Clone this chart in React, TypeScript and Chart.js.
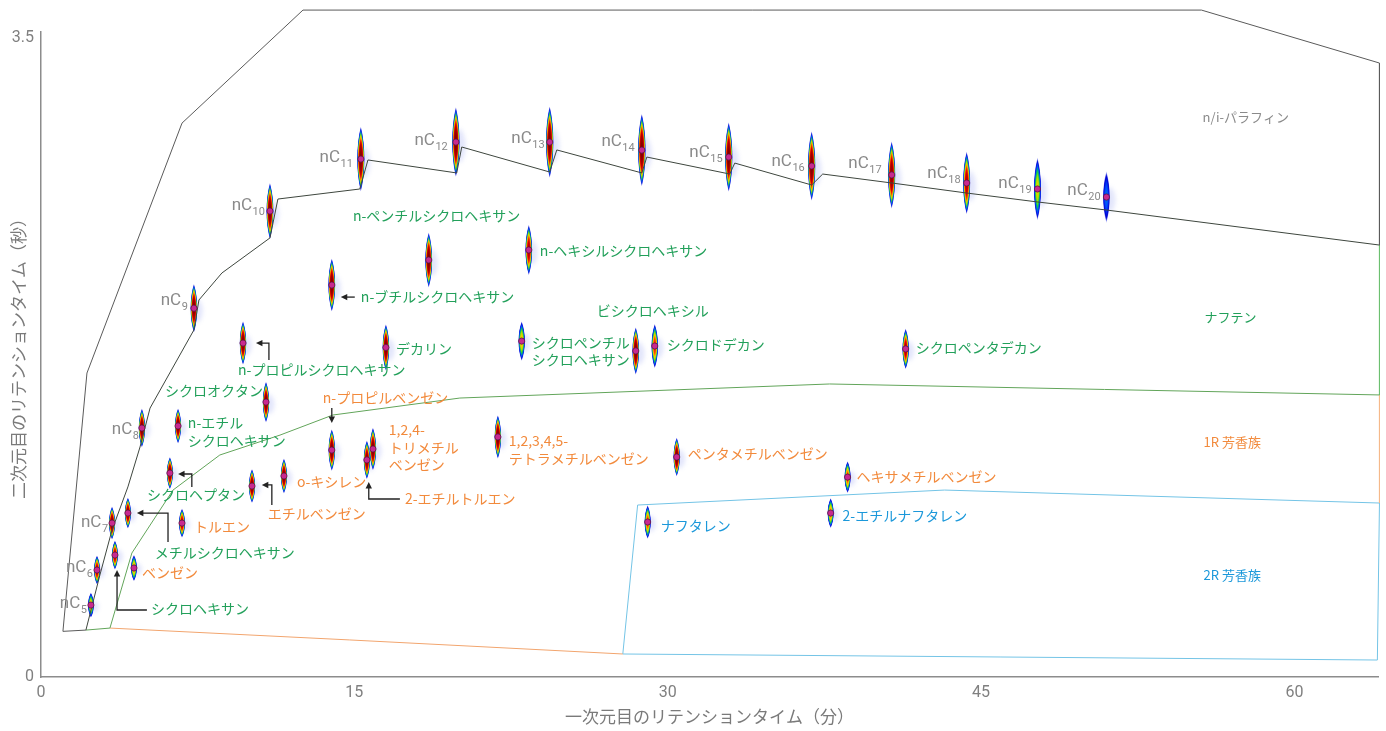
import React, { useEffect, useRef } from 'react';
import Chart from 'chart.js/auto';

// ---------- axes ----------
const xTicks = [0, 15, 30, 45, 60];
const yTicks = [0, 3.5];

// ---------- peaks (x: 1st dim min, y: 2nd dim s, spread: peak width in 2nd dim s, intensity: relative) ----------
const paraffinCarbons = ['5', '6', '7', '8', '9', '10', '11', '12', '13', '14', '15', '16', '17', '18', '19', '20'];
const paraffinX = [2.39, 2.68, 3.40, 4.83, 7.32, 10.96, 15.31, 19.86, 24.35, 28.76, 32.92, 36.89, 40.72, 44.31, 47.70, 51.0];
const paraffinY = [0.394, 0.586, 0.843, 1.364, 2.02, 2.552, 2.837, 2.930, 2.930, 2.886, 2.848, 2.799, 2.750, 2.706, 2.673, 2.629];
const paraffinSpread = [0.142, 0.164, 0.186, 0.219, 0.274, 0.318, 0.367, 0.394, 0.405, 0.411, 0.394, 0.394, 0.383, 0.356, 0.356, 0.296];
const paraffinIntensity = [0.6, 0.85, 1, 1, 1, 1, 1, 1, 1, 1, 1, 1, 0.95, 0.85, 0.55, 0.3];
const paraffinLabelX = [2.20, 2.49, 3.21, 4.69, 7.03, 10.72, 14.93, 19.47, 24.11, 28.42, 32.63, 36.56, 40.24, 44.02, 47.42, 50.72];
const paraffinLabelY = [0.378, 0.575, 0.822, 1.331, 2.038, 2.558, 2.821, 2.914, 2.925, 2.908, 2.848, 2.799, 2.788, 2.733, 2.678, 2.640];

const naphtheneNames = ['シクロヘキサン', 'メチルシクロヘキサン', 'シクロヘプタン', 'n-エチルシクロヘキサン', 'シクロオクタン', 'n-プロピルシクロヘキサン', 'n-ブチルシクロヘキサン', 'n-ペンチルシクロヘキサン', 'n-ヘキシルシクロヘキサン', 'デカリン', 'シクロペンチルシクロヘキサン', 'ビシクロヘキシル', 'シクロドデカン', 'シクロペンタデカン'];
const naphtheneX = [3.54, 4.16, 6.17, 6.56, 10.77, 9.67, 13.92, 18.56, 23.35, 16.51, 23.01, 28.47, 29.38, 41.39];
const naphtheneY = [0.668, 0.898, 1.117, 1.375, 1.506, 1.829, 2.147, 2.284, 2.339, 1.805, 1.840, 1.786, 1.813, 1.797];
const naphtheneSpread = [0.164, 0.175, 0.181, 0.197, 0.230, 0.246, 0.301, 0.312, 0.285, 0.263, 0.225, 0.268, 0.252, 0.230];
const naphtheneIntensity = [0.85, 0.95, 1, 1, 1, 1, 1, 1, 0.85, 1, 0.6, 1, 0.72, 0.85];

const aromaticNames = ['ベンゼン', 'トルエン', 'エチルベンゼン', 'o-キシレン', 'n-プロピルベンゼン', '2-エチルトルエン', '1,2,4-トリメチルベンゼン', '1,2,3,4,5-テトラメチルベンゼン', 'ペンタメチルベンゼン', 'ヘキサメチルベンゼン'];
const aromaticX = [4.45, 6.75, 10.10, 11.63, 13.92, 15.60, 15.89, 21.87, 30.43, 38.61];
const aromaticY = [0.597, 0.843, 1.046, 1.101, 1.243, 1.189, 1.249, 1.315, 1.205, 1.095];
const aromaticSpread = [0.148, 0.164, 0.192, 0.197, 0.236, 0.219, 0.241, 0.246, 0.219, 0.181];
const aromaticIntensity = [0.65, 0.85, 1, 1, 1, 0.95, 1, 1, 1, 0.7];

const diaromaticNames = ['ナフタレン', '2-エチルナフタレン'];
const diaromaticX = [29.04, 37.80];
const diaromaticY = [0.849, 0.898];
const diaromaticSpread = [0.192, 0.170];
const diaromaticIntensity = [0.7, 0.65];

// ---------- group region boundaries ----------
const paraffinOuter = [[2.15, 0.257], [1.05, 0.25], [2.20, 1.665], [6.75, 3.034], [12.54, 3.653], [55.55, 3.653], [64.07, 3.363], [64.07, 2.366]];
const paraffinLower = [[64.07, 2.366], [51.0, 2.558], [47.7, 2.602], [44.31, 2.651], [40.72, 2.706], [37.42, 2.755], [36.89, 2.695], [33.21, 2.815], [32.97, 2.755], [29.0, 2.848], [28.76, 2.761], [24.69, 2.887], [24.35, 2.766], [20.14, 2.903], [19.9, 2.761], [15.65, 2.832], [15.26, 2.673], [11.34, 2.618], [10.96, 2.405], [8.66, 2.213], [7.56, 2.065], [7.32, 1.901], [5.22, 1.473], [4.74, 1.26], [4.16, 1.041], [3.40, 0.805], [2.82, 0.559], [2.15, 0.257]];
const naphtheneLower = [[2.15, 0.257], [3.30, 0.268], [4.35, 0.679], [6.32, 1.024], [8.56, 1.216], [11.44, 1.325], [13.97, 1.435], [20.05, 1.528], [37.75, 1.605], [64.07, 1.545]];
const naphtheneRight = [[64.07, 2.366], [64.07, 1.545]];
const aromaticLower = [[3.30, 0.268], [14.78, 0.203], [27.85, 0.126]];
const aromaticRight = [[64.07, 1.545], [64.07, 0.953]];
const diaromaticBox = [[27.85, 0.126], [28.56, 0.942], [43.25, 1.024], [64.07, 0.953], [63.97, 0.093], [27.85, 0.126]];

const GRAY = '#8a8a8a';
const GREEN = '#22a05a';
const ORANGE = '#f28a3c';
const BLUE = '#1b98da';

const compoundLabels = [
  { lines: ['n-ペンチルシクロヘキサン'], x: 14.93, y: 2.525, color: GREEN },
  { lines: ['n-ヘキシルシクロヘキサン'], x: 23.88, y: 2.333, color: GREEN },
  { lines: ['n-ブチルシクロヘキサン'], x: 15.31, y: 2.081, color: GREEN },
  { lines: ['n-プロピルシクロヘキサン'], x: 9.43, y: 1.682, color: GREEN },
  { lines: ['デカリン'], x: 16.99, y: 1.797, color: GREEN },
  { lines: ['シクロペンチル', 'シクロヘキサン'], x: 23.49, y: 1.832, color: GREEN },
  { lines: ['ビシクロヘキシル'], x: 26.60, y: 2.005, color: GREEN },
  { lines: ['シクロドデカン'], x: 29.95, y: 1.818, color: GREEN },
  { lines: ['シクロペンタデカン'], x: 41.87, y: 1.802, color: GREEN },
  { lines: ['シクロオクタン'], x: 5.93, y: 1.567, color: GREEN },
  { lines: ['n-エチル', 'シクロヘキサン'], x: 7.03, y: 1.391, color: GREEN },
  { lines: ['シクロヘプタン'], x: 5.07, y: 0.997, color: GREEN },
  { lines: ['メチルシクロヘキサン'], x: 5.45, y: 0.679, color: GREEN },
  { lines: ['シクロヘキサン'], x: 5.26, y: 0.372, color: GREEN },
  { lines: ['n-プロピルベンゼン'], x: 13.49, y: 1.528, color: ORANGE },
  { lines: ['1,2,4-', 'トリメチル', 'ベンゼン'], x: 16.65, y: 1.353, color: ORANGE },
  { lines: ['1,2,3,4,5-', 'テトラメチルベンゼン'], x: 22.39, y: 1.293, color: ORANGE },
  { lines: ['ペンタメチルベンゼン'], x: 30.96, y: 1.221, color: ORANGE },
  { lines: ['ヘキサメチルベンゼン'], x: 39.04, y: 1.095, color: ORANGE },
  { lines: ['o-キシレン'], x: 12.25, y: 1.068, color: ORANGE },
  { lines: ['エチルベンゼン'], x: 10.86, y: 0.893, color: ORANGE },
  { lines: ['2-エチルトルエン'], x: 17.42, y: 0.975, color: ORANGE },
  { lines: ['トルエン'], x: 7.32, y: 0.822, color: ORANGE },
  { lines: ['ベンゼン'], x: 4.83, y: 0.570, color: ORANGE },
  { lines: ['ナフタレン'], x: 29.67, y: 0.827, color: BLUE },
  { lines: ['2-エチルナフタレン'], x: 38.37, y: 0.882, color: BLUE },
];

const regionLabels = [
  { text: 'n/i-パラフィン', x: 55.60, y: 3.067, color: GRAY },
  { text: 'ナフテン', x: 55.69, y: 1.972, color: GREEN },
  { text: '1R 芳香族', x: 55.65, y: 1.287, color: ORANGE },
  { text: '2R 芳香族', x: 55.65, y: 0.559, color: BLUE },
];

const arrows = [
  [[15.02, 2.081], [14.35, 2.081]],
  [[10.91, 1.736], [10.91, 1.829], [10.29, 1.829]],
  [[7.22, 1.041], [7.22, 1.112], [6.56, 1.112]],
  [[6.08, 0.739], [6.08, 0.898], [4.59, 0.898]],
  [[5.07, 0.367], [3.64, 0.367], [3.64, 0.586]],
  [[13.92, 1.473], [13.92, 1.391]],
  [[11.05, 0.942], [11.05, 1.052], [10.57, 1.052]],
  [[17.18, 0.975], [15.69, 0.975], [15.69, 1.068]],
];

const peakGroups = [
  { x: paraffinX, y: paraffinY, spread: paraffinSpread, intensity: paraffinIntensity },
  { x: naphtheneX, y: naphtheneY, spread: naphtheneSpread, intensity: naphtheneIntensity },
  { x: aromaticX, y: aromaticY, spread: aromaticSpread, intensity: aromaticIntensity },
  { x: diaromaticX, y: diaromaticY, spread: diaromaticSpread, intensity: diaromaticIntensity },
];

const boundaries = [
  { pts: paraffinOuter, color: '#5a5a5a' },
  { pts: paraffinLower, color: '#3e463e' },
  { pts: naphtheneLower, color: '#62a55a' },
  { pts: naphtheneRight, color: '#6cc070' },
  { pts: aromaticLower, color: '#f2a56e' },
  { pts: aromaticRight, color: '#f5b98a' },
  { pts: diaromaticBox, color: '#74c4e6' },
];

// ---------- colour map for spot intensity ----------
const cmap: number[][] = [
  [0.00, 70, 90, 235, 0.0],
  [0.05, 40, 50, 225, 0.45],
  [0.13, 0, 0, 210, 1],
  [0.27, 0, 80, 255, 1],
  [0.39, 0, 200, 90, 1],
  [0.49, 170, 225, 0, 1],
  [0.57, 255, 200, 0, 1],
  [0.66, 255, 70, 0, 1],
  [0.78, 210, 0, 0, 1],
  [1.00, 125, 0, 0, 1],
];
function jet(v: number): string {
  v = Math.max(0, Math.min(1, v));
  for (let i = 1; i < cmap.length; i++) {
    if (v <= cmap[i][0]) {
      const a = cmap[i - 1], b = cmap[i];
      const t = (v - a[0]) / (b[0] - a[0]);
      const c = [1, 2, 3, 4].map((k) => a[k] + (b[k] - a[k]) * t);
      return `rgba(${Math.round(c[0])},${Math.round(c[1])},${Math.round(c[2])},${c[3].toFixed(3)})`;
    }
  }
  return 'rgb(125,0,0)';
}

function spindle(ctx: CanvasRenderingContext2D, x: number, y: number, hw: number, hh: number) {
  ctx.beginPath();
  ctx.moveTo(x, y - hh);
  ctx.bezierCurveTo(x + hw * 1.33, y - hh * 0.45, x + hw * 1.33, y + hh * 0.45, x, y + hh);
  ctx.bezierCurveTo(x - hw * 1.33, y + hh * 0.45, x - hw * 1.33, y - hh * 0.45, x, y - hh);
  ctx.closePath();
}

function drawSpot(ctx: CanvasRenderingContext2D, x: number, y: number, hw: number, hh: number, k: number) {
  ctx.save();
  // faint tailing halo
  ctx.filter = 'blur(2px)';
  ctx.fillStyle = 'rgba(60,80,225,0.14)';
  spindle(ctx, x + hw * 1.1, y + hh * 0.1, hw * 1.5, hh * 0.5);
  ctx.fill();
  ctx.filter = 'none';
  const N = 24;
  for (let i = 0; i < N; i++) {
    const s = 1 - i / N;
    const v = k * (1 - Math.pow(s, 2.4));
    ctx.fillStyle = jet(v);
    spindle(ctx, x, y, hw * s, hh * s);
    ctx.fill();
  }
  ctx.restore();
}

const overlayPlugin = {
  id: 'gcxgcOverlay',
  beforeDatasetsDraw(chart: any) {
    const ctx: CanvasRenderingContext2D = chart.ctx;
    const ys = chart.scales.y;
    peakGroups.forEach((g, gi) => {
      const meta = chart.getDatasetMeta(gi);
      meta.data.forEach((el: any, i: number) => {
        const hh = Math.abs(ys.getPixelForValue(g.y[i] + g.spread[i] / 2) - el.y);
        const hw = 2.6 + hh * 0.033;
        drawSpot(ctx, el.x, el.y, hw, hh, g.intensity[i]);
      });
    });
  },
  afterDatasetsDraw(chart: any) {
    const ctx: CanvasRenderingContext2D = chart.ctx;
    const xs = chart.scales.x, ys = chart.scales.y;
    const px = (v: number) => xs.getPixelForValue(v);
    const py = (v: number) => ys.getPixelForValue(v);
    ctx.save();
    // nC labels
    ctx.fillStyle = GRAY;
    ctx.textAlign = 'right';
    ctx.textBaseline = 'alphabetic';
    paraffinCarbons.forEach((c, i) => {
      const rx = px(paraffinLabelX[i]);
      const by = py(paraffinLabelY[i]);
      ctx.font = '11px Roboto';
      const sw = ctx.measureText(c).width;
      ctx.fillText(c, rx, by + 5);
      ctx.font = '17px Roboto';
      ctx.fillText('nC', rx - sw - 0.5, by);
    });
    // compound labels
    ctx.textAlign = 'left';
    ctx.textBaseline = 'middle';
    ctx.font = '14px "Noto Sans CJK JP", "Noto Sans", sans-serif';
    compoundLabels.forEach((l) => {
      ctx.fillStyle = l.color;
      l.lines.forEach((t, j) => ctx.fillText(t, px(l.x), py(l.y) + j * 17.5));
    });
    ctx.font = '13px "Noto Sans CJK JP", "Noto Sans", sans-serif';
    regionLabels.forEach((l) => {
      ctx.fillStyle = l.color;
      ctx.fillText(l.text, px(l.x), py(l.y));
    });
    // arrows
    ctx.strokeStyle = '#222';
    ctx.fillStyle = '#222';
    ctx.lineWidth = 1.3;
    arrows.forEach((a) => {
      const p = a.map(([x, y]) => [px(x), py(y)]);
      const n = p.length;
      const [x1, y1] = p[n - 2];
      const [x2, y2] = p[n - 1];
      const ang = Math.atan2(y2 - y1, x2 - x1);
      const L = 6.5, W = 3.2;
      ctx.beginPath();
      ctx.moveTo(p[0][0], p[0][1]);
      for (let i = 1; i < n - 1; i++) ctx.lineTo(p[i][0], p[i][1]);
      ctx.lineTo(x2 - Math.cos(ang) * (L - 1), y2 - Math.sin(ang) * (L - 1));
      ctx.stroke();
      ctx.beginPath();
      ctx.moveTo(x2, y2);
      ctx.lineTo(x2 - Math.cos(ang) * L - Math.sin(ang) * W, y2 - Math.sin(ang) * L + Math.cos(ang) * W);
      ctx.lineTo(x2 - Math.cos(ang) * L + Math.sin(ang) * W, y2 - Math.sin(ang) * L - Math.cos(ang) * W);
      ctx.closePath();
      ctx.fill();
    });
    ctx.restore();
  },
};

export default function App() {
  const ref = useRef<HTMLCanvasElement | null>(null);
  useEffect(() => {
    if (!ref.current) return;
    const toXY = (pts: number[][]) => pts.map(([x, y]) => ({ x, y }));
    const peakDatasets = peakGroups.map((g) => ({
      data: g.x.map((x, i) => ({ x, y: g.y[i] })),
      showLine: false,
      pointRadius: 3.1,
      pointBackgroundColor: '#c8298f',
      pointBorderColor: '#5a1545',
      pointBorderWidth: 0.8,
      clip: false as const,
    }));
    const lineDatasets = boundaries.map((b) => ({
      data: toXY(b.pts),
      showLine: true,
      borderColor: b.color,
      borderWidth: 1,
      pointRadius: 0,
      fill: false,
      tension: 0,
      clip: false as const,
    }));
    const chart = new Chart(ref.current, {
      type: 'scatter',
      data: { datasets: [...peakDatasets, ...lineDatasets] as any },
      options: {
        responsive: false,
        animation: false,
        events: [],
        layout: { padding: { left: 0, top: 32, right: 8, bottom: 0 } },
        plugins: { legend: { display: false }, tooltip: { enabled: false } },
        scales: {
          x: {
            type: 'linear',
            min: 0,
            max: 64,
            afterBuildTicks: (s: any) => { s.ticks = xTicks.map((v) => ({ value: v })); },
            afterFit: (s: any) => { s.height = 54; },
            grid: { display: false, drawTicks: false },
            border: { display: true, color: '#8c8c8c', width: 1.5 },
            ticks: { padding: 6, color: '#808080', font: { family: 'Roboto', size: 16 } },
            title: {
              display: true,
              text: '一次元目のリテンションタイム（分）',
              color: '#7a7a7a',
              font: { family: '"Noto Sans CJK JP"', size: 17 },
              padding: { top: 0, bottom: 4 },
            },
          },
          y: {
            type: 'linear',
            min: 0,
            max: 3.533,
            afterBuildTicks: (s: any) => { s.ticks = yTicks.map((v) => ({ value: v })); },
            afterFit: (s: any) => { s.width = 41; },
            grid: { display: false, drawTicks: false },
            border: { display: true, color: '#8c8c8c', width: 1.5 },
            ticks: { padding: 7, color: '#808080', font: { family: 'Roboto', size: 16 } },
            title: {
              display: true,
              text: '二次元目のリテンションタイム（秒）',
              color: '#7a7a7a',
              font: { family: '"Noto Sans CJK JP"', size: 17 },
              padding: { top: 8, bottom: 0 },
            },
          },
        },
      } as any,
      plugins: [overlayPlugin],
    });
    return () => chart.destroy();
  }, []);
  return (
    <div style={{ position: 'fixed', left: 0, top: 0, width: 1386, height: 731, background: '#fff' }}>
      <canvas ref={ref} width={1386} height={731} style={{ display: 'block' }} />
    </div>
  );
}
